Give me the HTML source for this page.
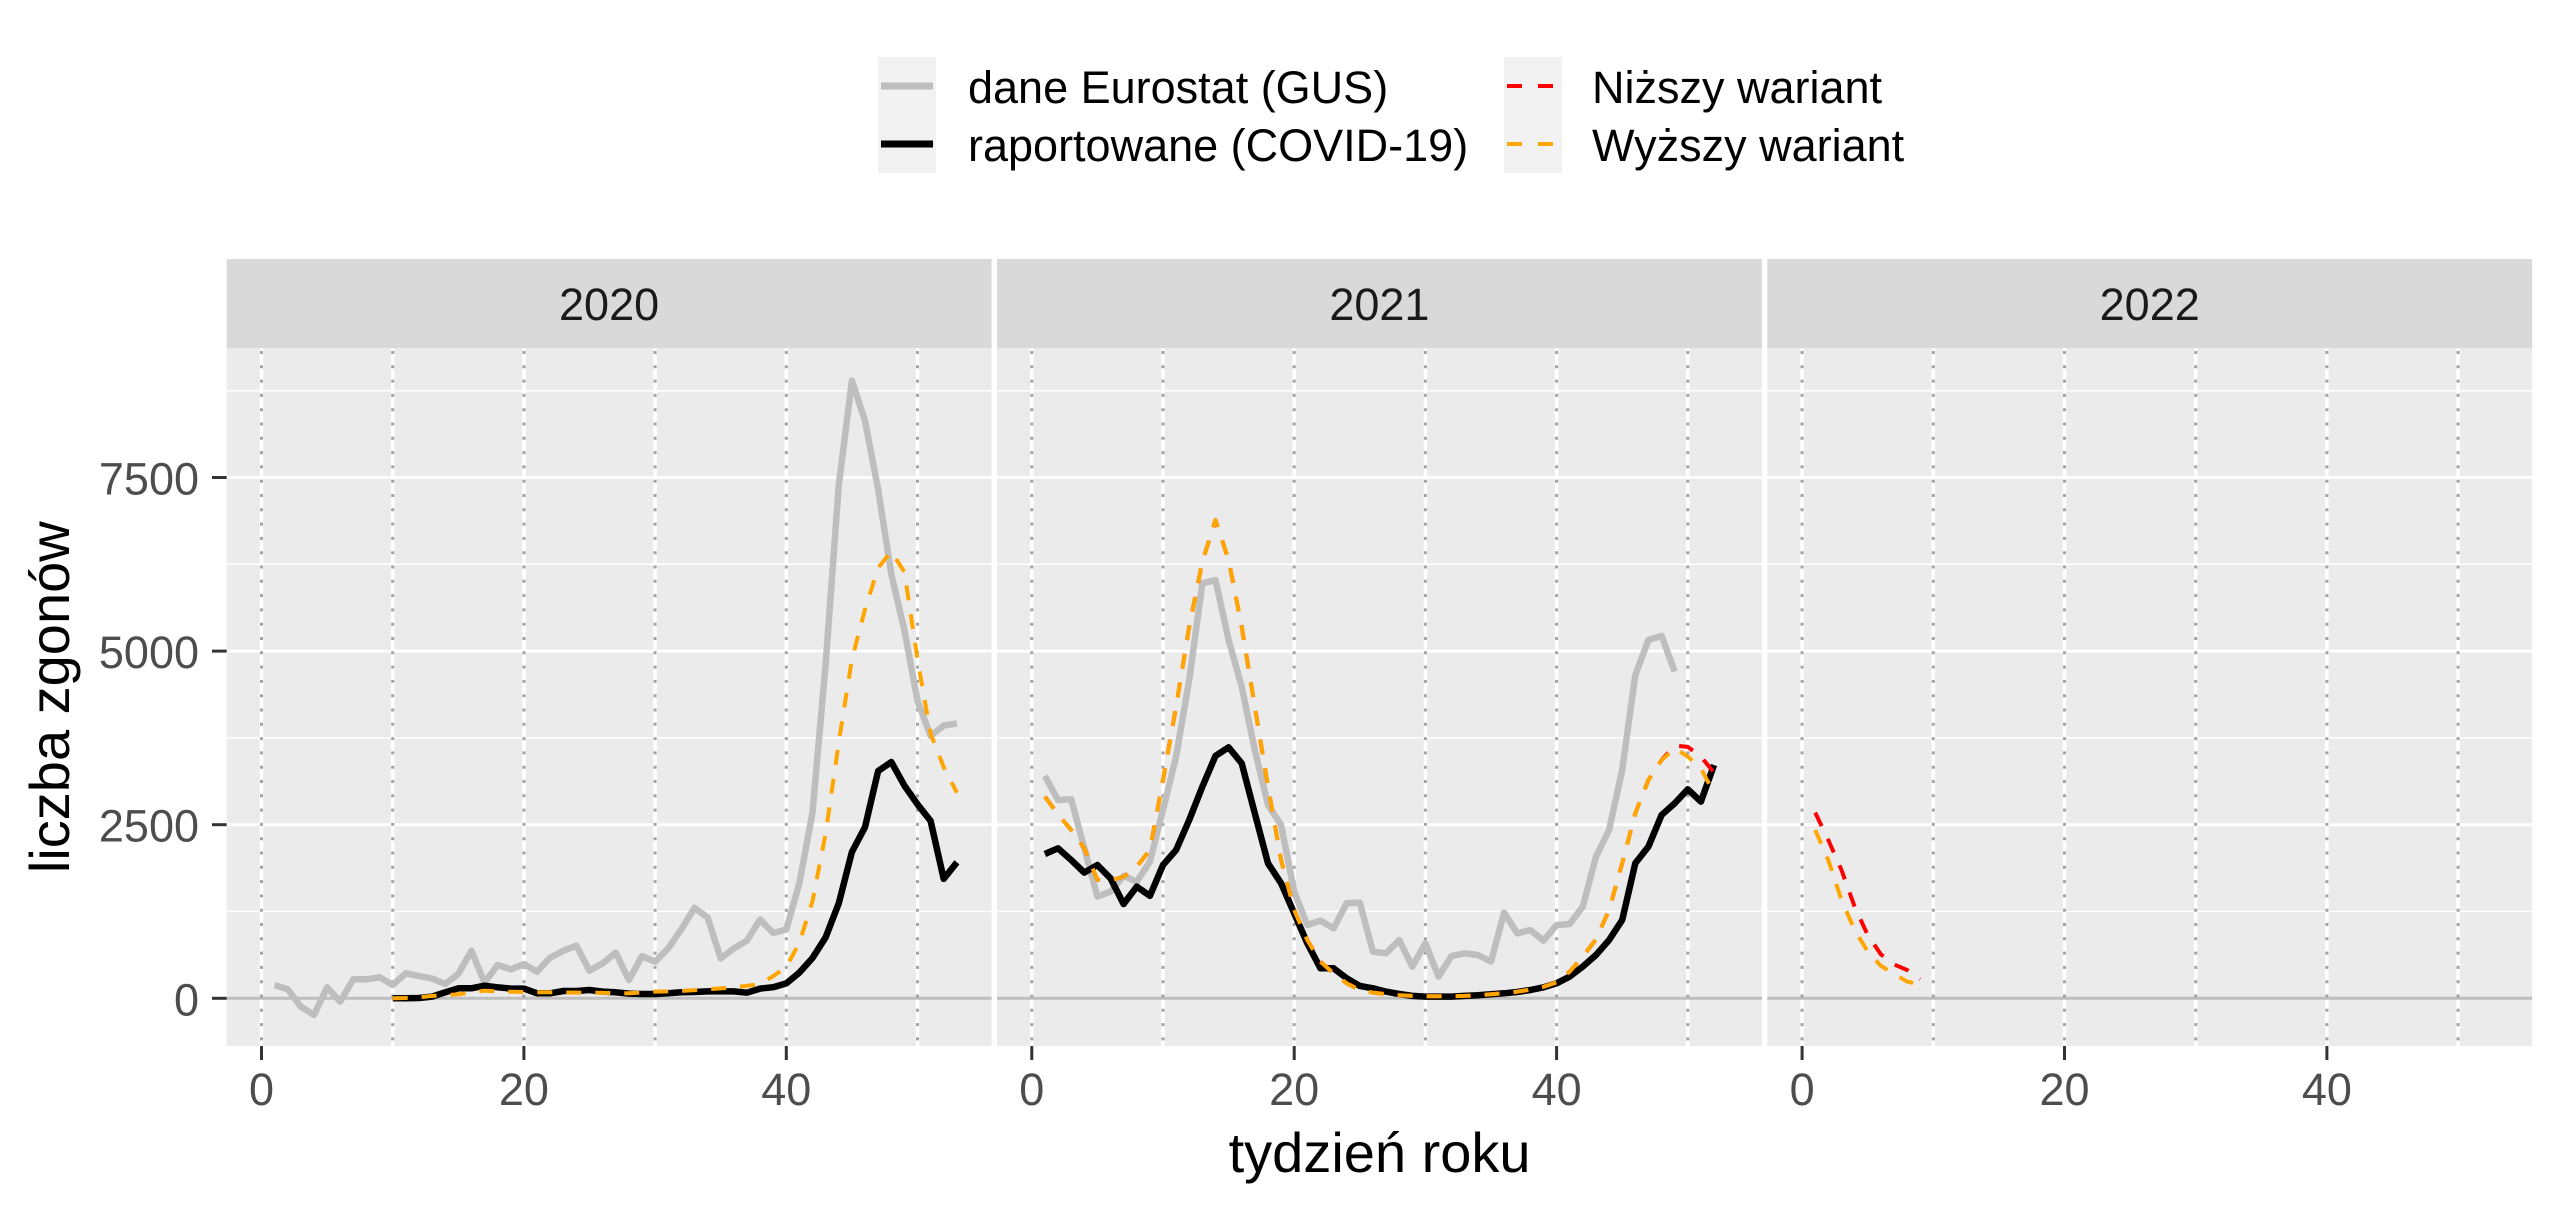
<!DOCTYPE html>
<html>
<head>
<meta charset="utf-8">
<style>
  html, body { margin: 0; padding: 0; background: #ffffff; }
  svg { display: block; }
  text { font-family: "Liberation Sans", Arial, sans-serif; }
</style>
</head>
<body>
<svg xmlns="http://www.w3.org/2000/svg" width="2560" height="1213" viewBox="0 0 2560 1213">
  <rect x="0" y="0" width="2560" height="1213" fill="#ffffff"/>

  <!-- Legend -->
  <rect x="878" y="57" width="58" height="116" fill="#F2F2F2"/>
  <line x1="881" y1="86" x2="933" y2="86" stroke="#BEBEBE" stroke-width="7"/>
  <line x1="881" y1="144" x2="933" y2="144" stroke="#000000" stroke-width="7"/>
  <text x="968" y="103" font-size="45" fill="#000">dane Eurostat (GUS)</text>
  <text x="968" y="161" font-size="45" fill="#000">raportowane (COVID-19)</text>

  <rect x="1504" y="57" width="58" height="116" fill="#F2F2F2"/>
  <line x1="1507" y1="86" x2="1559" y2="86" stroke="#FF0000" stroke-width="4" stroke-dasharray="15 16"/>
  <line x1="1507" y1="144" x2="1559" y2="144" stroke="#FFA500" stroke-width="4" stroke-dasharray="15 16"/>
  <text x="1592" y="103" font-size="45" fill="#000">Niższy wariant</text>
  <text x="1592" y="161" font-size="45" fill="#000">Wyższy wariant</text>

  <!-- Panel 1 -->
  <g>
    <rect x="226.7" y="259" width="764.9" height="89.3" fill="#D9D9D9"/>
    <rect x="226.7" y="348.3" width="764.9" height="697.7" fill="#EBEBEB"/>
    <g stroke="#FFFFFF" stroke-width="1.5">
      <line x1="226.7" x2="991.6" y1="911.5" y2="911.5"/>
      <line x1="226.7" x2="991.6" y1="737.9" y2="737.9"/>
      <line x1="226.7" x2="991.6" y1="564.3" y2="564.3"/>
      <line x1="226.7" x2="991.6" y1="390.7" y2="390.7"/>
    </g>
    <g stroke="#FFFFFF" stroke-width="2.8">
      <line x1="226.7" x2="991.6" y1="824.7" y2="824.7"/>
      <line x1="226.7" x2="991.6" y1="651.1" y2="651.1"/>
      <line x1="226.7" x2="991.6" y1="477.5" y2="477.5"/>
    </g>
    <g stroke="#FFFFFF" stroke-width="3.5">
      <line x1="261.5" x2="261.5" y1="348.3" y2="1046"/>
      <line x1="392.7" x2="392.7" y1="348.3" y2="1046"/>
      <line x1="523.9" x2="523.9" y1="348.3" y2="1046"/>
      <line x1="655.1" x2="655.1" y1="348.3" y2="1046"/>
      <line x1="786.3" x2="786.3" y1="348.3" y2="1046"/>
      <line x1="917.5" x2="917.5" y1="348.3" y2="1046"/>
    </g>
    <line x1="226.7" x2="991.6" y1="998.3" y2="998.3" stroke="#BEBEBE" stroke-width="3"/>
    <g stroke="#A3A3A3" stroke-width="3" stroke-dasharray="3 11.3">
      <line x1="261.5" x2="261.5" y1="351" y2="1046"/>
      <line x1="392.7" x2="392.7" y1="351" y2="1046"/>
      <line x1="523.9" x2="523.9" y1="351" y2="1046"/>
      <line x1="655.1" x2="655.1" y1="351" y2="1046"/>
      <line x1="786.3" x2="786.3" y1="351" y2="1046"/>
      <line x1="917.5" x2="917.5" y1="351" y2="1046"/>
    </g>
    <g stroke="#333333" stroke-width="3">
      <line x1="261.5" x2="261.5" y1="1046" y2="1060"/>
      <line x1="523.9" x2="523.9" y1="1046" y2="1060"/>
      <line x1="786.3" x2="786.3" y1="1046" y2="1060"/>
    </g>
    <g font-size="45" fill="#4D4D4D" text-anchor="middle">
      <text x="261.5" y="1105">0</text>
      <text x="523.9" y="1105">20</text>
      <text x="786.3" y="1105">40</text>
    </g>
  </g>
  <!-- Panel 2 -->
  <g transform="translate(770.3,0)">
    <rect x="226.7" y="259" width="764.9" height="89.3" fill="#D9D9D9"/>
    <rect x="226.7" y="348.3" width="764.9" height="697.7" fill="#EBEBEB"/>
    <g stroke="#FFFFFF" stroke-width="1.5">
      <line x1="226.7" x2="991.6" y1="911.5" y2="911.5"/>
      <line x1="226.7" x2="991.6" y1="737.9" y2="737.9"/>
      <line x1="226.7" x2="991.6" y1="564.3" y2="564.3"/>
      <line x1="226.7" x2="991.6" y1="390.7" y2="390.7"/>
    </g>
    <g stroke="#FFFFFF" stroke-width="2.8">
      <line x1="226.7" x2="991.6" y1="824.7" y2="824.7"/>
      <line x1="226.7" x2="991.6" y1="651.1" y2="651.1"/>
      <line x1="226.7" x2="991.6" y1="477.5" y2="477.5"/>
    </g>
    <g stroke="#FFFFFF" stroke-width="3.5">
      <line x1="261.5" x2="261.5" y1="348.3" y2="1046"/>
      <line x1="392.7" x2="392.7" y1="348.3" y2="1046"/>
      <line x1="523.9" x2="523.9" y1="348.3" y2="1046"/>
      <line x1="655.1" x2="655.1" y1="348.3" y2="1046"/>
      <line x1="786.3" x2="786.3" y1="348.3" y2="1046"/>
      <line x1="917.5" x2="917.5" y1="348.3" y2="1046"/>
    </g>
    <line x1="226.7" x2="991.6" y1="998.3" y2="998.3" stroke="#BEBEBE" stroke-width="3"/>
    <g stroke="#A3A3A3" stroke-width="3" stroke-dasharray="3 11.3">
      <line x1="261.5" x2="261.5" y1="351" y2="1046"/>
      <line x1="392.7" x2="392.7" y1="351" y2="1046"/>
      <line x1="523.9" x2="523.9" y1="351" y2="1046"/>
      <line x1="655.1" x2="655.1" y1="351" y2="1046"/>
      <line x1="786.3" x2="786.3" y1="351" y2="1046"/>
      <line x1="917.5" x2="917.5" y1="351" y2="1046"/>
    </g>
    <g stroke="#333333" stroke-width="3">
      <line x1="261.5" x2="261.5" y1="1046" y2="1060"/>
      <line x1="523.9" x2="523.9" y1="1046" y2="1060"/>
      <line x1="786.3" x2="786.3" y1="1046" y2="1060"/>
    </g>
    <g font-size="45" fill="#4D4D4D" text-anchor="middle">
      <text x="261.5" y="1105">0</text>
      <text x="523.9" y="1105">20</text>
      <text x="786.3" y="1105">40</text>
    </g>
  </g>
  <!-- Panel 3 -->
  <g transform="translate(1540.6,0)">
    <rect x="226.7" y="259" width="764.9" height="89.3" fill="#D9D9D9"/>
    <rect x="226.7" y="348.3" width="764.9" height="697.7" fill="#EBEBEB"/>
    <g stroke="#FFFFFF" stroke-width="1.5">
      <line x1="226.7" x2="991.6" y1="911.5" y2="911.5"/>
      <line x1="226.7" x2="991.6" y1="737.9" y2="737.9"/>
      <line x1="226.7" x2="991.6" y1="564.3" y2="564.3"/>
      <line x1="226.7" x2="991.6" y1="390.7" y2="390.7"/>
    </g>
    <g stroke="#FFFFFF" stroke-width="2.8">
      <line x1="226.7" x2="991.6" y1="824.7" y2="824.7"/>
      <line x1="226.7" x2="991.6" y1="651.1" y2="651.1"/>
      <line x1="226.7" x2="991.6" y1="477.5" y2="477.5"/>
    </g>
    <g stroke="#FFFFFF" stroke-width="3.5">
      <line x1="261.5" x2="261.5" y1="348.3" y2="1046"/>
      <line x1="392.7" x2="392.7" y1="348.3" y2="1046"/>
      <line x1="523.9" x2="523.9" y1="348.3" y2="1046"/>
      <line x1="655.1" x2="655.1" y1="348.3" y2="1046"/>
      <line x1="786.3" x2="786.3" y1="348.3" y2="1046"/>
      <line x1="917.5" x2="917.5" y1="348.3" y2="1046"/>
    </g>
    <line x1="226.7" x2="991.6" y1="998.3" y2="998.3" stroke="#BEBEBE" stroke-width="3"/>
    <g stroke="#A3A3A3" stroke-width="3" stroke-dasharray="3 11.3">
      <line x1="261.5" x2="261.5" y1="351" y2="1046"/>
      <line x1="392.7" x2="392.7" y1="351" y2="1046"/>
      <line x1="523.9" x2="523.9" y1="351" y2="1046"/>
      <line x1="655.1" x2="655.1" y1="351" y2="1046"/>
      <line x1="786.3" x2="786.3" y1="351" y2="1046"/>
      <line x1="917.5" x2="917.5" y1="351" y2="1046"/>
    </g>
    <g stroke="#333333" stroke-width="3">
      <line x1="261.5" x2="261.5" y1="1046" y2="1060"/>
      <line x1="523.9" x2="523.9" y1="1046" y2="1060"/>
      <line x1="786.3" x2="786.3" y1="1046" y2="1060"/>
    </g>
    <g font-size="45" fill="#4D4D4D" text-anchor="middle">
      <text x="261.5" y="1105">0</text>
      <text x="523.9" y="1105">20</text>
      <text x="786.3" y="1105">40</text>
    </g>
  </g>

  <!-- Strip labels -->
  <g font-size="45" fill="#1A1A1A" text-anchor="middle">
    <text x="609.1" y="320">2020</text>
    <text x="1379.4" y="320">2021</text>
    <text x="2149.7" y="320">2022</text>
  </g>

  <!-- Y axis ticks and labels -->
  <g stroke="#333333" stroke-width="3">
    <line x1="212" x2="226.7" y1="998.3" y2="998.3"/>
    <line x1="212" x2="226.7" y1="824.7" y2="824.7"/>
    <line x1="212" x2="226.7" y1="651.1" y2="651.1"/>
    <line x1="212" x2="226.7" y1="477.5" y2="477.5"/>
  </g>
  <g font-size="45" fill="#4D4D4D" text-anchor="end">
    <text x="199" y="1015.3">0</text>
    <text x="199" y="841.7">2500</text>
    <text x="199" y="668.1">5000</text>
    <text x="199" y="494.5">7500</text>
  </g>

  <!-- Series: panel 2020 -->
  <g fill="none" stroke-linejoin="round">
    <polyline stroke="#BEBEBE" stroke-width="6.5" points="274.6,985.0 287.7,989.3 300.9,1006.6 314.0,1015.0 327.1,987.3 340.2,1001.6 353.3,979.3 366.5,979.3 379.6,977.3 392.7,985.0 405.8,973.3 418.9,976.0 432.1,978.6 445.2,984.0 458.3,974.0 471.4,950.7 484.5,982.7 497.7,965.0 510.8,969.3 523.9,964.1 537.0,971.7 550.1,957.7 563.3,950.7 576.4,945.7 589.5,970.7 602.6,963.4 615.7,952.7 628.9,980.0 642.0,956.1 655.1,961.7 668.2,948.4 681.3,929.4 694.5,907.8 707.6,917.5 720.7,958.4 733.8,948.4 746.9,940.7 760.1,919.5 773.2,933.0 786.3,929.5 799.4,883.0 812.5,812.5 825.7,663.3 838.8,485.0 851.9,380.6 865.0,420.8 878.1,489.2 891.3,574.2 904.4,630.2 917.5,700.7 930.6,735.9 943.7,725.5 956.9,723.4"/>
    <polyline stroke="#000000" stroke-width="6.5" points="392.7,998.3 405.8,998.2 418.9,998.0 432.1,996.6 445.2,992.3 458.3,988.3 471.4,988.3 484.5,985.7 497.7,987.3 510.8,988.6 523.9,988.6 537.0,993.3 550.1,993.3 563.3,991.0 576.4,991.0 589.5,990.0 602.6,991.6 615.7,992.3 628.9,993.6 642.0,994.0 655.1,994.0 668.2,993.3 681.3,992.3 694.5,992.0 707.6,991.4 720.7,991.4 733.8,991.4 746.9,992.7 760.1,988.6 773.2,987.2 786.3,983.4 799.4,972.6 812.5,958.0 825.7,937.2 838.8,903.2 851.9,852.0 865.0,827.1 878.1,771.1 891.3,762.0 904.4,785.6 917.5,804.3 930.6,820.9 943.7,878.9 956.9,862.3"/>
    <polyline stroke="#FFA500" stroke-width="4" stroke-dasharray="15 14" points="392.7,998.3 405.8,998.0 418.9,997.3 432.1,995.9 445.2,995.2 458.3,994.3 471.4,992.4 484.5,990.7 497.7,991.4 510.8,991.7 523.9,992.0 537.0,992.2 550.1,992.3 563.3,992.5 576.4,992.6 589.5,992.7 602.6,992.9 615.7,993.1 628.9,993.3 642.0,992.4 655.1,991.6 668.2,991.4 681.3,991.0 694.5,990.1 707.6,989.3 720.7,988.4 733.8,987.3 746.9,985.8 760.1,984.0 773.2,976.1 786.3,967.1 799.4,942.7 812.5,901.1 825.7,833.3 838.8,742.1 851.9,659.2 865.0,609.4 878.1,567.9 891.3,551.4 904.4,572.1 917.5,659.2 930.6,733.8 943.7,767.0 956.9,792.7"/>
  </g>

  <!-- Series: panel 2021 -->
  <g fill="none" stroke-linejoin="round" transform="translate(770.3,0)">
    <polyline stroke="#BEBEBE" stroke-width="6.5" points="274.6,775.9 287.7,800.0 300.9,799.3 314.0,848.0 327.1,896.6 340.2,891.6 353.3,875.9 366.5,881.6 379.6,861.6 392.7,810.0 405.8,756.6 418.9,680.0 432.1,583.3 445.2,580.0 458.3,640.0 471.4,686.6 484.5,750.0 497.7,805.0 510.8,825.0 523.9,891.6 537.0,925.0 550.1,920.7 563.3,928.3 576.4,903.3 589.5,902.6 602.6,951.6 615.7,953.3 628.9,940.0 642.0,966.6 655.1,943.3 668.2,976.6 681.3,955.9 694.5,953.3 707.6,955.0 720.7,961.6 733.8,912.6 746.9,933.3 760.1,930.0 773.2,940.7 786.3,925.0 799.4,924.0 812.5,906.6 825.7,856.6 838.8,830.0 851.9,770.0 865.0,675.0 878.1,640.0 891.3,635.9 904.4,671.6"/>
    <polyline stroke="#000000" stroke-width="6.5" points="274.6,854.0 287.7,848.3 300.9,860.0 314.0,872.6 327.1,865.0 340.2,878.3 353.3,904.0 366.5,886.6 379.6,895.9 392.7,865.0 405.8,850.0 418.9,820.0 432.1,786.6 445.2,755.9 458.3,747.3 471.4,763.3 484.5,813.3 497.7,863.3 510.8,883.3 523.9,913.3 537.0,943.3 550.1,968.3 563.3,968.3 576.4,978.3 589.5,985.9 602.6,988.3 615.7,991.6 628.9,994.0 642.0,995.9 655.1,996.6 668.2,996.6 681.3,996.6 694.5,995.9 707.6,995.3 720.7,994.3 733.8,993.3 746.9,992.0 760.1,990.0 773.2,987.3 786.3,983.3 799.4,976.6 812.5,966.6 825.7,955.0 838.8,940.0 851.9,920.0 865.0,863.3 878.1,846.6 891.3,815.0 904.4,803.3 917.5,789.3 930.6,801.6 943.7,765.0"/>
    <polyline stroke="#FF0000" stroke-width="4" stroke-dasharray="15 14" points="274.6,796.6 287.7,814.3 300.9,830.0 314.0,848.3 327.1,880.0 340.2,880.2 353.3,876.8 366.5,866.6 379.6,850.0 392.7,780.0 405.8,706.6 418.9,626.6 432.1,561.6 445.2,520.0 458.3,560.0 471.4,626.6 484.5,706.6 497.7,786.6 510.8,860.0 523.9,910.0 537.0,940.0 550.1,961.6 563.3,973.3 576.4,983.3 589.5,990.0 602.6,992.6 615.7,994.1 628.9,995.2 642.0,995.9 655.1,996.2 668.2,996.2 681.3,996.2 694.5,995.9 707.6,995.3 720.7,994.3 733.8,993.1 746.9,991.7 760.1,989.6 773.2,986.8 786.3,982.3 799.4,971.6 812.5,956.6 825.7,939.3 838.8,910.0 851.9,863.3 865.0,813.3 878.1,780.0 891.3,760.0 904.4,745.5 917.5,746.9 930.6,756.6 943.7,772.6"/>
    <polyline stroke="#FFA500" stroke-width="4" stroke-dasharray="15 14" points="274.6,796.6 287.7,814.3 300.9,830.0 314.0,848.3 327.1,880.0 340.2,880.2 353.3,876.8 366.5,866.6 379.6,850.0 392.7,780.0 405.8,706.6 418.9,626.6 432.1,561.6 445.2,520.0 458.3,560.0 471.4,626.6 484.5,706.6 497.7,786.6 510.8,860.0 523.9,910.0 537.0,940.0 550.1,961.6 563.3,973.3 576.4,983.3 589.5,990.0 602.6,992.6 615.7,994.1 628.9,995.2 642.0,995.9 655.1,996.2 668.2,996.2 681.3,996.2 694.5,995.9 707.6,995.3 720.7,994.3 733.8,993.1 746.9,991.7 760.1,989.6 773.2,986.8 786.3,982.3 799.4,971.6 812.5,956.6 825.7,939.3 838.8,910.0 851.9,863.3 865.0,813.3 878.1,780.0 891.3,760.0 904.4,748.3 917.5,756.6 930.6,768.3 943.7,793.3"/>
  </g>

  <!-- Series: panel 2022 -->
  <g fill="none" stroke-linejoin="round" transform="translate(1540.6,0)">
    <polyline stroke="#FF0000" stroke-width="4" stroke-dasharray="15 14" points="274.6,812.6 287.7,840.0 300.9,870.0 314.0,906.6 327.1,935.0 340.2,954.3 353.3,964.3 366.5,970.0 379.6,979.3"/>
    <polyline stroke="#FFA500" stroke-width="4" stroke-dasharray="15 14" points="274.6,830.0 287.7,860.0 300.9,900.0 314.0,930.0 327.1,951.6 340.2,965.7 353.3,974.0 366.5,981.6 379.6,984.5"/>
  </g>

  <!-- Axis titles -->
  <text x="1379.6" y="1172" font-size="56" fill="#000" text-anchor="middle">tydzień roku</text>
  <text transform="translate(69,697.2) rotate(-90)" font-size="56" fill="#000" text-anchor="middle">liczba zgonów</text>
</svg>
</body>
</html>
